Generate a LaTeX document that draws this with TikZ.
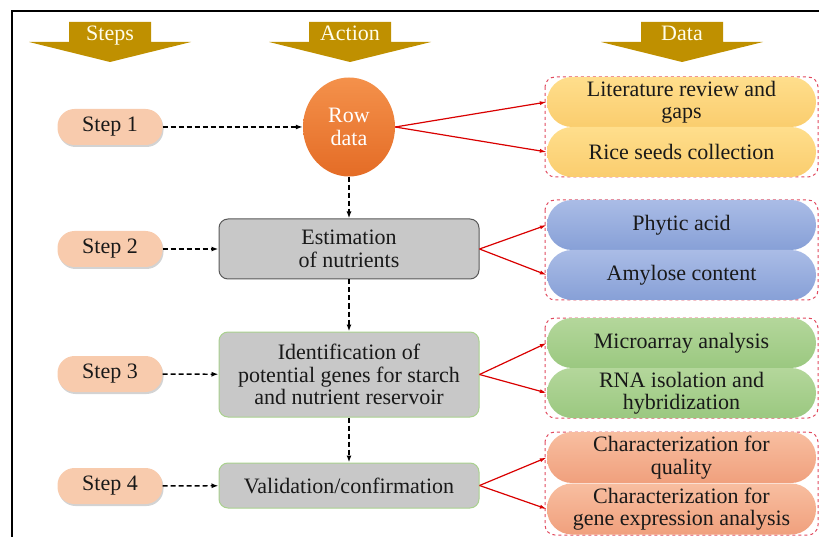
\documentclass[tikz,border=0pt]{standalone}
\usepackage{fontspec}
\setmainfont{Liberation Serif}
\usetikzlibrary{arrows.meta,shapes.geometric,shadows}
\definecolor{hdrgold}{RGB}{191,144,0}
\definecolor{stepc}{RGB}{248,203,173}
\definecolor{rowtop}{RGB}{244,145,75}
\definecolor{rowbot}{RGB}{228,108,38}
\definecolor{boxgray}{RGB}{200,200,200}
\definecolor{boxgreen}{RGB}{169,209,142}
\definecolor{yelA}{RGB}{255,222,140}
\definecolor{yelB}{RGB}{250,205,110}
\definecolor{bluA}{RGB}{170,188,230}
\definecolor{bluB}{RGB}{135,160,215}
\definecolor{grnA}{RGB}{180,215,155}
\definecolor{grnB}{RGB}{155,200,128}
\definecolor{salA}{RGB}{248,190,160}
\definecolor{salB}{RGB}{240,160,125}
\definecolor{grpred}{RGB}{225,75,95}
\begin{document}
\begin{tikzpicture}[
  x=1pt, y=-1pt,
  every node/.style={font=\fontsize{22}{22.5}\selectfont, align=center, text=black!90},
  stepbox/.style={rectangle, rounded corners=17pt, fill=stepc, minimum width=105pt,
    minimum height=36pt, drop shadow={shadow xshift=1pt, shadow yshift=-2pt, opacity=0.35}},
  act/.style={rectangle, rounded corners=9pt, fill=boxgray, draw=boxgreen, line width=1pt,
    minimum width=260pt, inner sep=2pt},
  pill/.style={rectangle, rounded corners=25pt, minimum width=269pt, minimum height=50pt, inner sep=1pt},
  grp/.style={draw=grpred, dashed, line width=1pt, rounded corners=10pt},
  dasharr/.style={-{Latex[length=7pt,width=5pt]}, dash pattern=on 5pt off 3pt, line width=1.4pt, black},
  redarr/.style={-{Latex[length=7pt,width=4pt]}, red!85!black, line width=1.2pt}
]
\useasboundingbox (0,0) rectangle (819,537);
\draw[line width=2.2pt] (12,537) -- (12,11) -- (819,11);
% headers
\foreach \cx/\txt in {110/Steps, 350/Action, 682/Data} {
  \fill[hdrgold] (\cx-41,22) -- (\cx+41,22) -- (\cx+41,42) -- (\cx+81,42)
    -- (\cx,62) -- (\cx-81,42) -- (\cx-41,42) -- cycle;
  \node[text=white!92!yellow, anchor=base] (h\txt) at (\cx,41) {\txt};
}
% steps
\foreach \i/\y in {1/127, 2/249, 3/374, 4/486}
  \node[stepbox] (s\i) at (110,\y) {Step \i};
% actions
\node[ellipse, top color=rowtop, bottom color=rowbot, minimum width=92pt, minimum height=99pt,
  inner sep=0pt, text=white] (a1) at (349,127) {Row\\data};
\node[act, draw=black!65, minimum height=60pt] (a2) at (349,249) {Estimation\\of nutrients};
\node[act, minimum height=85pt] (a3) at (349,374.5) {Identification of\\potential genes for starch\\and nutrient reservoir};
\node[act, minimum height=45pt] (a4) at (349,485.5) {Validation/confirmation};
% data groups
\draw[grp] (545,77) rectangle (818,177);
\draw[grp] (545,200) rectangle (818,300);
\draw[grp] (545,318) rectangle (818,418);
\draw[grp] (545,432) rectangle (818,535);
\node[pill, top color=yelA, bottom color=yelB] (d1a) at (681.5,102) {Literature review and\\gaps};
\node[pill, top color=yelA, bottom color=yelB] (d1b) at (681.5,152) {Rice seeds collection};
\node[pill, top color=bluA, bottom color=bluB] (d2a) at (681.5,225) {Phytic acid};
\node[pill, top color=bluA, bottom color=bluB] (d2b) at (681.5,275) {Amylose content};
\node[pill, top color=grnA, bottom color=grnB] (d3a) at (681.5,343) {Microarray analysis};
\node[pill, top color=grnA, bottom color=grnB] (d3b) at (681.5,393) {RNA isolation and\\hybridization};
\node[pill, top color=salA, bottom color=salB, minimum height=51pt] (d4a) at (681.5,457.5) {Characterization for\\quality};
\node[pill, top color=salA, bottom color=salB, minimum height=51pt] (d4b) at (681.5,509) {Characterization for\\gene expression analysis};
% connectors
\foreach \i in {1,...,4} {
  \draw[dasharr] (s\i) -- (a\i);
  \draw[redarr] (a\i.east) -- (d\i a.west);
  \draw[redarr] (a\i.east) -- (d\i b.west);
}
\draw[dasharr] (a1) -- (a2);
\draw[dasharr] (a2) -- (a3);
\draw[dasharr] (a3) -- (a4);
\end{tikzpicture}
\end{document}
